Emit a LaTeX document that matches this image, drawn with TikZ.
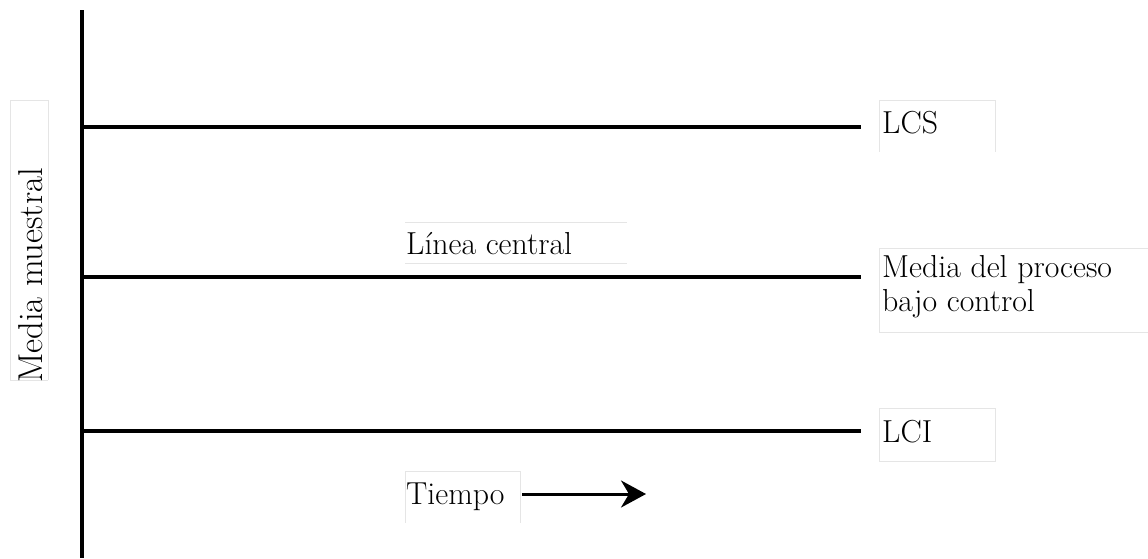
\documentclass[tikz,border=0pt]{standalone}
\usepackage{fontspec}
\usetikzlibrary{arrows.meta}
\begin{document}
\begin{tikzpicture}[x=1pt,y=-1pt,
  axis/.style={line width=3.5pt},
  limline/.style={line width=3.5pt},
  faint/.style={draw=black!10,line width=1pt},
  lbl/.style={inner sep=0pt,anchor=base west,font=\fontsize{31.8}{35}\selectfont},
  arr/.style={line width=3pt,-{Stealth[length=25pt,width=27pt,inset=8pt]}}]
\useasboundingbox (0,0) rectangle (1148,558);
% faint label boxes
\draw[faint] (48,380) -- (10,380) -- (10,100) -- (48,100) -- (48,380);
\draw[faint] (879,152) -- (879,100) -- (995,100) -- (995,152);
\draw[faint] (405,222) -- (627,222);
\draw[faint] (405,263) -- (627,263);
\draw[faint] (1148,248) -- (879,248) -- (879,332) -- (1148,332);
\draw[faint] (879,408) rectangle (995,461);
\draw[faint] (405,523) -- (405,471) -- (520,471) -- (520,523);
% axis and lines
\coordinate (atop) at (82,10);
\coordinate (abot) at (82,558);
\draw[axis] (atop) -- (abot);
\coordinate (ucl0) at (82,127); \coordinate (ucl1) at (861,127);
\coordinate (cl0) at (82,277); \coordinate (cl1) at (861,277);
\coordinate (lcl0) at (82,431); \coordinate (lcl1) at (861,431);
\draw[limline] (ucl0) -- (ucl1);
\draw[limline] (cl0) -- (cl1);
\draw[limline] (lcl0) -- (lcl1);
% labels
\node[lbl,rotate=90,font=\fontsize{34.5}{40}\selectfont] (ylab) at (42,383) {Media muestral};
\node[lbl] (lcs) at (882,133) {LCS};
\node[lbl] (lc) at (406,254) {Línea central};
\node[lbl] (mp) at (882,277) {Media del proceso};
\node[lbl] (bc) at (882,311) {bajo control};
\node[lbl] (lci) at (882,442) {LCI};
\node[lbl] (t) at (406,504) {Tiempo};
\coordinate (astart) at (522,494);
\coordinate (aend) at (646,494);
\draw[arr] (astart) -- (aend);
\end{tikzpicture}
\end{document}
